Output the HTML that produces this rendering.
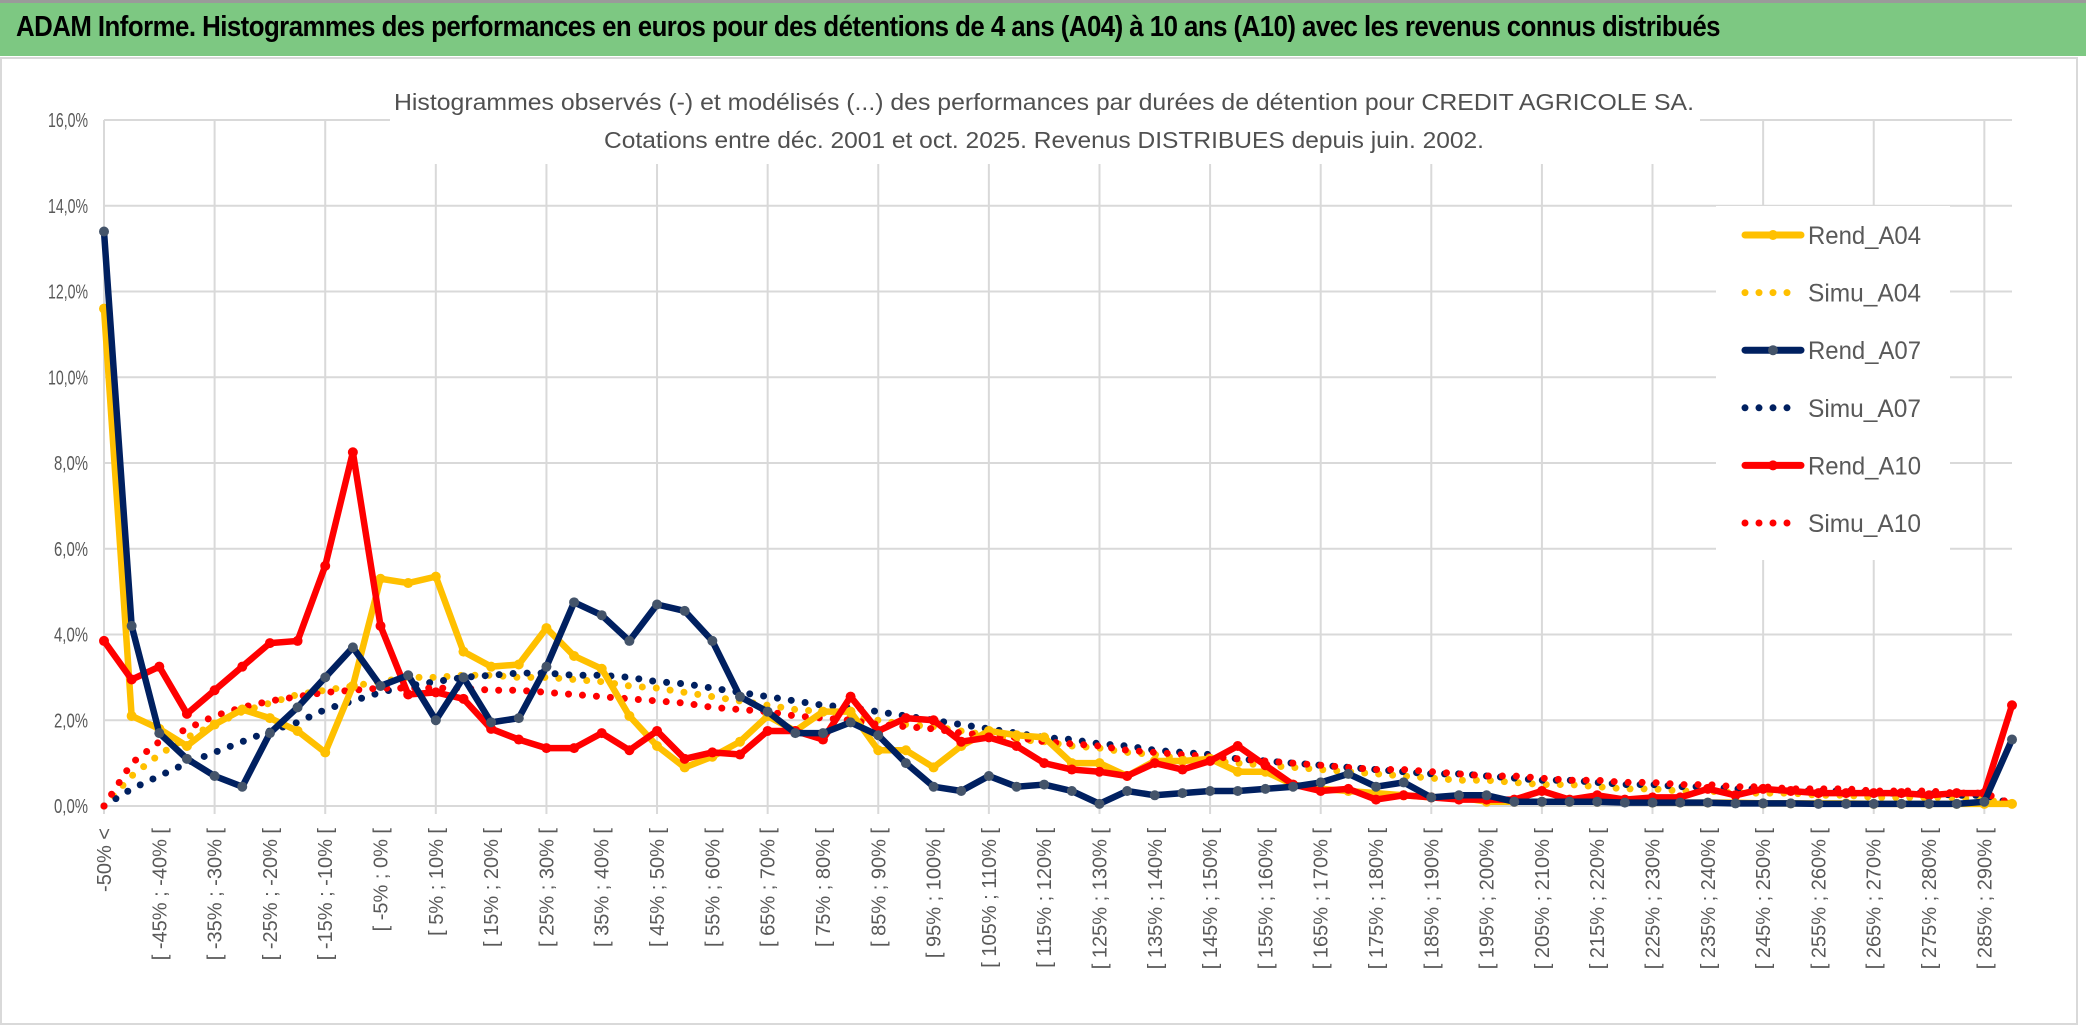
<!DOCTYPE html>
<html><head><meta charset="utf-8">
<style>
html,body{margin:0;padding:0;background:#fff;}
body{width:2086px;height:1033px;overflow:hidden;position:relative;font-family:"Liberation Sans",sans-serif;}
#title{position:absolute;left:0;top:0;width:2086px;height:56px;background:#7dc882;border-top:3px solid #9a9a9a;box-sizing:border-box;}
#title span{position:absolute;left:16px;top:8px;font-size:29px;font-weight:bold;color:#000;white-space:nowrap;letter-spacing:-0.6px;transform:scaleX(0.89);transform-origin:left top;}
svg{position:absolute;left:0;top:0;}
</style></head><body>
<div id="title"><span>ADAM Informe. Histogrammes des performances en euros pour des détentions de 4 ans (A04) à 10 ans (A10) avec les revenus connus distribués</span></div>
<svg id="chart" width="2086" height="1033"></svg>
<script>
const categories = (function(){const c=["-50% <"];for(let k=1;k<70;k++){const a=-55+5*k;c.push("[ "+a+"% ; "+(a+5)+"% [");}return c;})();
const yTicks=[0,2,4,6,8,10,12,14,16];
const yTickLabels=["0,0%","2,0%","4,0%","6,0%","8,0%","10,0%","12,0%","14,0%","16,0%"];
const rendA04=[11.6,2.1,1.8,1.4,1.9,2.25,2.05,1.75,1.25,2.8,5.3,5.2,5.35,3.6,3.25,3.3,4.15,3.5,3.2,2.1,1.4,0.9,1.15,1.5,2.1,1.75,2.2,2.2,1.3,1.3,0.9,1.4,1.75,1.65,1.6,1.0,1.0,0.7,1.05,1.05,1.1,0.8,0.8,0.5,0.4,0.35,0.3,0.25,0.2,0.2,0.1,0.1,0.1,0.1,0.1,0.1,0.08,0.08,0.08,0.08,0.06,0.06,0.06,0.06,0.05,0.05,0.05,0.05,0.05,0.05];
const rendA07=[13.4,4.2,1.7,1.1,0.7,0.45,1.7,2.3,3.0,3.7,2.8,3.05,2.0,3.0,1.95,2.05,3.25,4.75,4.45,3.85,4.7,4.55,3.85,2.55,2.2,1.7,1.7,1.95,1.65,1.0,0.45,0.35,0.7,0.45,0.5,0.35,0.05,0.35,0.25,0.3,0.35,0.35,0.4,0.45,0.55,0.75,0.45,0.55,0.2,0.25,0.25,0.1,0.1,0.1,0.1,0.08,0.08,0.08,0.08,0.06,0.06,0.06,0.05,0.05,0.05,0.05,0.05,0.05,0.1,1.55];
const rendA10=[3.85,2.95,3.25,2.15,2.7,3.25,3.8,3.85,5.6,8.25,4.2,2.6,2.65,2.5,1.8,1.55,1.35,1.35,1.7,1.3,1.75,1.1,1.25,1.2,1.75,1.75,1.55,2.55,1.75,2.05,2.0,1.5,1.6,1.4,1.0,0.85,0.8,0.7,1.0,0.85,1.05,1.4,0.95,0.5,0.35,0.4,0.15,0.25,0.2,0.15,0.15,0.15,0.35,0.15,0.25,0.15,0.2,0.2,0.4,0.25,0.4,0.35,0.3,0.3,0.3,0.3,0.25,0.3,0.3,2.35];
const simuA04=[0,0.7,1.2,1.6,1.9,2.2,2.4,2.6,2.7,2.8,2.9,3.0,3.0,3.05,3.05,3.0,3.0,2.95,2.9,2.8,2.75,2.65,2.55,2.45,2.35,2.25,2.2,2.1,2.0,1.9,1.85,1.75,1.65,1.55,1.5,1.4,1.35,1.25,1.2,1.1,1.05,1.0,0.95,0.9,0.85,0.8,0.75,0.7,0.65,0.6,0.6,0.55,0.5,0.5,0.45,0.4,0.4,0.35,0.35,0.3,0.3,0.3,0.25,0.25,0.2,0.2,0.2,0.2,0.15,0.05];
const simuA07=[0,0.4,0.7,1.0,1.25,1.5,1.75,1.95,2.25,2.45,2.65,2.8,2.9,3.0,3.05,3.1,3.1,3.05,3.05,3.0,2.9,2.85,2.75,2.65,2.55,2.45,2.35,2.3,2.2,2.1,2.0,1.9,1.8,1.7,1.6,1.55,1.45,1.4,1.3,1.25,1.2,1.1,1.05,1.0,0.95,0.9,0.85,0.8,0.75,0.75,0.7,0.65,0.6,0.6,0.55,0.5,0.5,0.45,0.45,0.4,0.4,0.35,0.35,0.35,0.3,0.3,0.3,0.25,0.25,0.05];
const simuA10=[0,1.0,1.5,1.8,2.1,2.3,2.45,2.55,2.65,2.7,2.75,2.75,2.75,2.75,2.7,2.7,2.65,2.6,2.55,2.5,2.45,2.4,2.3,2.25,2.2,2.1,2.05,2.0,1.9,1.85,1.8,1.7,1.65,1.6,1.5,1.45,1.4,1.3,1.25,1.2,1.15,1.1,1.05,1.0,0.95,0.9,0.85,0.85,0.8,0.75,0.7,0.7,0.65,0.6,0.6,0.55,0.55,0.5,0.5,0.45,0.45,0.4,0.4,0.4,0.35,0.35,0.35,0.3,0.3,0.05];

const NS="http://www.w3.org/2000/svg";
const svg=document.getElementById('chart');
const X0=104,X1=2012,Y0=806,Y1=120,YMAX=16;
function xPos(i){return X0+(X1-X0)*i/(categories.length-1);}
function yPos(v){return Y0-(Y0-Y1)*v/YMAX;}
function mk(tag,attrs){const e=document.createElementNS(NS,tag);for(const k in attrs)e.setAttribute(k,attrs[k]);svg.appendChild(e);return e;}

const frame=mk('rect',{x:1,y:58,width:2076,height:966,fill:'none',stroke:'#d9d9d9','stroke-width':2});



yTicks.forEach((t,k)=>{
  const g=mk('line',{x1:X0,x2:X1,y1:yPos(t),y2:yPos(t),stroke:'#d9d9d9','stroke-width':2});
  
  
  const lb=mk('text',{x:88,y:yPos(t)+7,'text-anchor':'end','font-size':20,fill:'#595959','font-family':'Liberation Sans, sans-serif',textLength:yTickLabels[k].length>4?40:34,lengthAdjust:'spacingAndGlyphs'});
  lb.textContent=yTickLabels[k];
  
  
});
for(let i=0;i<categories.length;i+=4){
  const g=mk('line',{x1:xPos(i),x2:xPos(i),y1:Y1,y2:Y0+8,stroke:'#d9d9d9','stroke-width':2});
  
  
}
for(let i=0;i<categories.length;i+=2){
  const x=xPos(i)+7,y=828;
  const lb=mk('text',{x:x,y:y,'text-anchor':'end','font-size':20,fill:'#595959','font-family':'Liberation Sans, sans-serif',transform:'rotate(-90 '+x+' '+y+')'});
  lb.textContent=categories[i];
  
  
}

const tbg=mk('rect',{x:390,y:80,width:1310,height:84,fill:'#fff'});


const t1=mk('text',{x:1044,y:110,'text-anchor':'middle','font-size':23,fill:'#505050','font-family':'Liberation Sans, sans-serif',textLength:1300,lengthAdjust:'spacingAndGlyphs'});
t1.textContent="Histogrammes observés (-) et modélisés (...) des performances par durées de détention pour CREDIT AGRICOLE SA.";


const t2=mk('text',{x:1044,y:148,'text-anchor':'middle','font-size':23,fill:'#505050','font-family':'Liberation Sans, sans-serif',textLength:880,lengthAdjust:'spacingAndGlyphs'});
t2.textContent="Cotations entre déc. 2001 et oct. 2025. Revenus DISTRIBUES depuis juin. 2002.";



function pts(arr){return arr.map((v,i)=>xPos(i)+','+yPos(v)).join(' ');}
function dotted(arr,color,name){
  const p=mk('polyline',{points:pts(arr),fill:'none',stroke:color,'stroke-width':7,'stroke-linecap':'round','stroke-dasharray':'0 14'});
  
  
}
function solid(arr,color,mcolor,name){
  const p=mk('polyline',{points:pts(arr),fill:'none',stroke:color,'stroke-width':6.5,'stroke-linejoin':'round'});
  
  
  arr.forEach((v,i)=>{
    const c=mk('circle',{cx:xPos(i),cy:yPos(v),r:5,fill:mcolor});
    
    
  });
}
dotted(simuA04,'#ffc000','simu-a04-line');
dotted(simuA07,'#002060','simu-a07-line');
dotted(simuA10,'#ff0000','simu-a10-line');
solid(rendA04,'#ffc000','#ffc000','rend-a04-line');
solid(rendA10,'#ff0000','#ff0000','rend-a10-line');
solid(rendA07,'#002060','#44546a','rend-a07-line');

const lbg=mk('rect',{x:1716,y:206,width:234,height:354,fill:'#fff'});


const legNames=['Rend_A04','Simu_A04','Rend_A07','Simu_A07','Rend_A10','Simu_A10'];
const legColors=['#ffc000','#ffc000','#002060','#002060','#ff0000','#ff0000'];
const legMarker=['#ffc000',null,'#44546a',null,'#ff0000',null];
legNames.forEach((n,k)=>{
  const y=235+k*57.6;
  if(legMarker[k]){
    const l=mk('line',{x1:1745,x2:1801,y1:y,y2:y,stroke:legColors[k],'stroke-width':7,'stroke-linecap':'round'});
    
    
    const c=mk('circle',{cx:1773,cy:y,r:5,fill:legMarker[k]});
    
    
  } else {
    const l=mk('line',{x1:1745,x2:k===5?1800:1790,y1:y,y2:y,stroke:legColors[k],'stroke-width':7,'stroke-linecap':'round','stroke-dasharray':'0 14'});
    
    
  }
  const t=mk('text',{x:1808,y:y+9,'font-size':25,fill:'#595959','font-family':'Liberation Sans, sans-serif',textLength:113,lengthAdjust:'spacingAndGlyphs'});
  t.textContent=n;
  
  
});
</script>
</body></html>
